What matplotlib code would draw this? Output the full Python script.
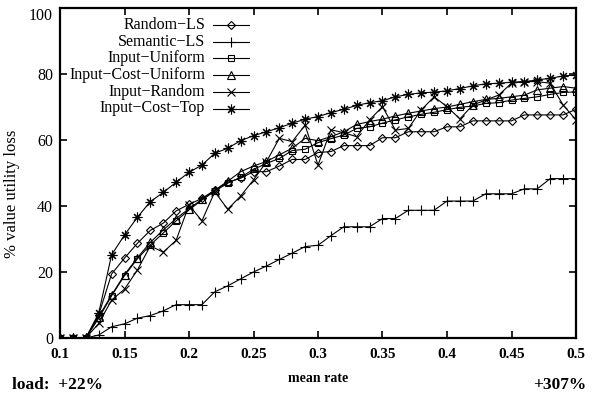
import matplotlib.pyplot as plt
import numpy as np

plt.rcParams['font.family'] = ['Liberation Serif', 'DejaVu Serif']

# mean rate values on the x axis
rate = [0.10, 0.11, 0.12, 0.13, 0.14, 0.15, 0.16, 0.17, 0.18, 0.19,
        0.20, 0.21, 0.22, 0.23, 0.24, 0.25, 0.26, 0.27, 0.28, 0.29,
        0.30, 0.31, 0.32, 0.33, 0.34, 0.35, 0.36, 0.37, 0.38, 0.39,
        0.40, 0.41, 0.42, 0.43, 0.44, 0.45, 0.46, 0.47, 0.48, 0.49, 0.50]

random_ls = [0, 0, 0, 7.0, 19.4, 24.2, 28.7, 32.6, 34.8, 38.5,
             40.5, 42.3, 44.8, 47.2, 48.4, 50.4, 50.4, 52.1, 54.1, 54.1,
             56.2, 56.5, 58.3, 58.3, 58.3, 60.7, 60.7, 62.5, 62.5, 62.5,
             64.0, 64.0, 65.8, 65.8, 65.8, 65.8, 67.6, 67.6, 67.6, 67.6, 69.3]

semantic_ls = [0, 0, 0, 0.9, 3.4, 4.3, 6.0, 6.8, 8.2, 10.1,
               10.1, 10.1, 14.0, 15.8, 17.9, 20.0, 21.8, 23.8, 25.7, 27.7,
               28.1, 31.0, 33.7, 33.7, 33.7, 36.2, 36.2, 38.7, 38.7, 38.7,
               41.5, 41.5, 41.5, 43.7, 43.7, 43.7, 45.2, 45.2, 48.3, 48.3, 48.3]

input_uniform = [0, 0, 0, 6.0, 12.8, 18.9, 24.0, 28.2, 31.8, 35.5,
                 38.8, 41.8, 44.5, 46.9, 48.7, 51.1, 52.9, 54.4, 56.8, 57.2,
                 59.2, 60.4, 61.5, 63.5, 64.0, 65.1, 66.1, 67.0, 67.8, 68.4,
                 69.2, 69.9, 70.3, 71.1, 71.3, 72.1, 72.6, 73.1, 73.8, 74.4, 74.6]

input_cost_uniform = [0, 0, 0, 6.5, 13.0, 19.2, 24.3, 29.0, 32.7, 36.2,
                      39.2, 42.0, 44.8, 47.5, 50.4, 52.1, 53.5, 55.5, 57.5, 60.5,
                      59.8, 61.0, 62.5, 64.7, 65.6, 66.3, 67.3, 68.1, 68.8, 69.5,
                      70.0, 70.8, 71.6, 72.3, 72.6, 73.1, 73.6, 75.2, 75.7, 76.2, 75.7]

input_random = [0, 0, 0, 4.4, 11.5, 14.8, 20.6, 27.9, 26.0, 29.6,
                40.3, 35.5, 44.3, 39.0, 43.0, 47.9, 53.4, 60.5, 59.5, 64.5,
                52.4, 63.1, 62.2, 61.0, 66.1, 70.1, 63.0, 63.5, 69.1, 73.1,
                70.1, 66.4, 70.6, 72.1, 73.6, 77.2, 77.7, 77.7, 77.2, 70.6, 66.1]

input_cost_top = [0, 0, 0, 7.5, 25.2, 31.2, 36.6, 41.3, 44.1, 47.2,
                  50.2, 52.4, 56.0, 57.5, 59.8, 61.3, 62.5, 63.7, 65.1, 66.3,
                  67.1, 68.3, 69.3, 70.5, 71.3, 71.9, 73.1, 73.8, 74.3, 74.5,
                  74.9, 75.6, 76.4, 77.0, 77.2, 77.5, 77.7, 78.2, 78.7, 79.4, 79.7]

labels = ['Random\u2212LS', 'Semantic\u2212LS', 'Input\u2212Uniform',
          'Input\u2212Cost\u2212Uniform', 'Input\u2212Random', 'Input\u2212Cost\u2212Top']
series = [random_ls, semantic_ls, input_uniform, input_cost_uniform,
          input_random, input_cost_top]
markers = ['D', '+', 's', '^', 'x', (8, 2, 0)]
msizes = [4.5, 6.5, 5, 5.5, 6, 7]

fig = plt.figure(figsize=(5.98, 3.94), dpi=100)
ax = fig.add_axes([60 / 598, 56 / 394, 516 / 598, 330 / 394])

for ys, m, s in zip(series, markers, msizes):
    ax.plot(rate, ys, color='black', linewidth=0.8, marker=m, markersize=s,
            markerfacecolor='none', markeredgecolor='black', markeredgewidth=0.8)

# legend drawn by hand so the labels are right-aligned like gnuplot
for i, (lab, m, s) in enumerate(zip(labels, markers, msizes)):
    yy = (338 - (25 + i * 16.7)) / 330
    ax.text(0.281, yy, lab, transform=ax.transAxes, ha='right', va='center',
            fontsize=11.5)
    ax.plot([0.297, 0.331, 0.366], [yy, yy, yy], transform=ax.transAxes,
            color='black', linewidth=0.8, marker=m, markersize=s, markevery=[1],
            markerfacecolor='none', markeredgecolor='black', markeredgewidth=0.8,
            clip_on=False)

ax.set_xlim(0.1, 0.5)
ax.set_ylim(0, 100)
ax.set_xticks([0.1, 0.15, 0.2, 0.25, 0.3, 0.35, 0.4, 0.45, 0.5])
ax.set_xticklabels(['0.1', '0.15', '0.2', '0.25', '0.3', '0.35', '0.4', '0.45', '0.5'])
ax.set_yticks([0, 20, 40, 60, 80, 100])
ax.tick_params(direction='in', top=True, right=True, length=5, width=1.2)
ax.tick_params(axis='x', labelsize=11, pad=7)
ax.tick_params(axis='y', labelsize=11.5, pad=5)
for lab in ax.get_xticklabels():
    lab.set_fontweight('bold')
ax.get_yticklabels()[-1].set_verticalalignment('top')
for sp in ax.spines.values():
    sp.set_linewidth(1.6)

ax.set_ylabel('% value utility loss', fontsize=12)
ax.yaxis.set_label_coords(-0.077, 0.436)
ax.set_xlabel('mean rate', fontsize=10, fontweight='bold')
ax.xaxis.set_label_coords(0.5, -0.104)

fig.text(12 / 598, 1 - 385 / 394, 'load:  +22%', fontsize=12.5, fontweight='bold',
         ha='left', va='center')
fig.text(586 / 598, 1 - 385 / 394, '+307%', fontsize=12.5, fontweight='bold',
         ha='right', va='center')

fig.savefig('out.png', dpi=100)
